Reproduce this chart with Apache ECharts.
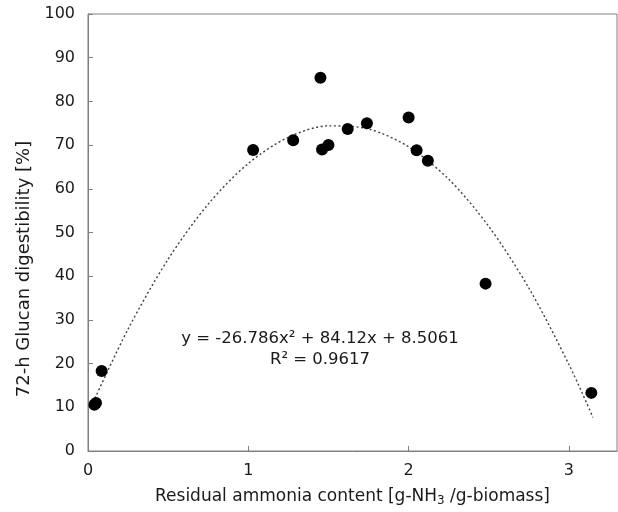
<!DOCTYPE html>
<html style="height: 100%">
<head>
<meta charset="utf-8">
</head>
<body style="height: 100%; margin: 0; background: #fff">
<div id="container" style="width: 618px; height: 512px"></div>
<script type="text/javascript" src="https://cdn.jsdelivr.net/npm/echarts@6/dist/echarts.min.js"></script>
<script type="text/javascript">
// measured points: residual ammonia [g-NH3/g-biomass] vs 72-h glucan digestibility [%]
var ammonia = [0.04, 0.05, 0.085, 1.03, 1.28, 1.45, 1.46, 1.50, 1.62, 1.74, 2.00, 2.05, 2.12, 2.48, 3.14];
var digestibility = [10.6, 11.0, 18.3, 68.9, 71.1, 85.4, 69.0, 70.0, 73.7, 75.0, 76.3, 68.8, 66.4, 38.3, 13.3];

// dotted trendline
var trendX = [0.02, 0.25, 0.5, 0.75, 1.0, 1.25, 1.5, 1.75, 2.0, 2.25, 2.5, 2.75, 3.0, 3.15];
var trendY = [10.2, 27.9, 43.9, 56.5, 65.8, 71.8, 74.4, 73.7, 69.6, 62.2, 51.4, 37.3, 19.8, 7.7];

var xTicks = [0, 1, 2, 3];
var yTicks = [0, 10, 20, 30, 40, 50, 60, 70, 80, 90, 100];

var eqLine1 = 'y = -26.786x² + 84.12x + 8.5061';
var eqLine2 = 'R² = 0.9617';
var yTitle = '72-h Glucan digestibility [%]';

var font = 'DejaVu Sans';
var gray = '#808080';
var ink = '#1a1a1a';

var dom = document.getElementById('container');
var myChart = echarts.init(dom, null, {renderer: 'canvas'});

var points = [];
for (var i = 0; i < ammonia.length; i++) {
    points.push([ammonia[i], digestibility[i]]);
}
var trend = [];
for (var j = 0; j < trendX.length; j++) {
    trend.push([trendX[j], trendY[j]]);
}

var option = {
    animation: false,
    backgroundColor: '#fff',
    textStyle: {fontFamily: font},
    grid: {
        left: 88, top: 14, right: 1, bottom: 61,
        show: true,
        borderColor: gray,
        borderWidth: 1
    },
    xAxis: {
        type: 'value',
        min: 0,
        max: 3.3,
        interval: 1,
        name: '{n|Residual ammonia content [g-NH}{sub|3}{n| /g-biomass]}',
        nameLocation: 'middle',
        nameGap: 36,
        nameTextStyle: {
            rich: {
                n: {fontFamily: font, fontSize: 17, color: ink},
                sub: {fontFamily: font, fontSize: 12, color: ink, padding: [8, 0, 0, 0]}
            }
        },
        axisLine: {lineStyle: {color: gray, width: 1}},
        axisTick: {inside: true, length: 5, lineStyle: {color: gray}},
        splitLine: {show: false},
        axisLabel: {
            fontSize: 16,
            color: ink,
            margin: 12,
            showMaxLabel: false,
            formatter: function (v) {
                return xTicks.indexOf(v) >= 0 ? String(v) : '';
            }
        }
    },
    yAxis: {
        type: 'value',
        min: 0,
        max: 100,
        interval: 10,
        axisLine: {show: true, lineStyle: {color: gray, width: 1}},
        axisTick: {show: true, inside: true, length: 5, lineStyle: {color: gray}},
        splitLine: {show: false},
        axisLabel: {
            fontSize: 16,
            color: ink,
            margin: 13,
            formatter: function (v) {
                return yTicks.indexOf(v) >= 0 ? String(v) : '';
            }
        }
    },
    graphic: [
        {
            type: 'text',
            x: 24,
            y: 269,
            rotation: Math.PI / 2,
            style: {text: yTitle, font: '18px ' + font, fill: ink, align: 'center', verticalAlign: 'middle'}
        },
        {
            type: 'text',
            x: 320,
            y: 339,
            style: {text: eqLine1, font: '16.5px ' + font, fill: ink, align: 'center', verticalAlign: 'middle'}
        },
        {
            type: 'text',
            x: 320,
            y: 360,
            style: {text: eqLine2, font: '16.5px ' + font, fill: ink, align: 'center', verticalAlign: 'middle'}
        }
    ],
    series: [
        {
            name: 'trend',
            type: 'line',
            data: trend,
            smooth: 0.3,
            symbol: 'none',
            lineStyle: {color: '#404040', width: 1.4, type: [2, 2.5]},
            z: 1
        },
        {
            name: 'data',
            type: 'scatter',
            data: points,
            symbol: 'circle',
            symbolSize: 12,
            itemStyle: {color: '#000', opacity: 1},
            z: 2
        }
    ]
};

myChart.setOption(option);
</script>
</body>
</html>
